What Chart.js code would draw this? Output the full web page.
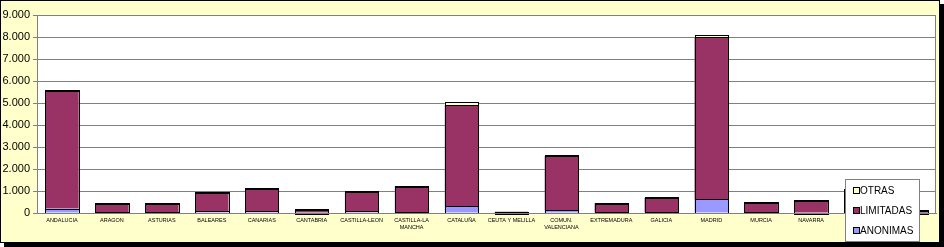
<!DOCTYPE html>
<html>
<head>
<meta charset="utf-8">
<script src="https://cdn.jsdelivr.net/npm/chart.js@4/dist/chart.umd.min.js"></script>
<style>
    body { margin: 0; background: #ffffff; }
    #frame {
        position: absolute; left: 0; top: 0;
        width: 938px; height: 241px;
        border: 1px solid #000000;
        background: #ffffcc;
        box-shadow: 4px 4px 0 #000000;
    }
    #frame canvas { display: block; }
</style>
</head>
<body>
<div id="frame"><canvas id="empresasChart" width="938" height="241"></canvas></div>
<script>
var regiones = ['ANDALUCIA', 'ARAGON', 'ASTURIAS', 'BALEARES', 'CANARIAS', 'CANTABRIA', 'CASTILLA-LEON',
    ['CASTILLA-LA', 'MANCHA'], 'CATALUÑA', 'CEUTA Y MELILLA', ['COMUN.', 'VALENCIANA'], 'EXTREMADURA',
    'GALICIA', 'MADRID', 'MURCIA', 'NAVARRA', 'PAIS VASCO', 'RIOJA'];
var anonimas  = [200, 40, 30, 80, 90, 20, 80, 50, 320, 5, 140, 30, 40, 630, 30, 20, 120, 10];
var limitadas = [5370, 400, 410, 845, 1010, 140, 900, 1140, 4590, 55, 2440, 410, 655, 7350, 440, 545, 950, 100];
var otras     = [30, 15, 10, 30, 20, 5, 20, 20, 135, 5, 40, 15, 15, 125, 10, 10, 30, 5];
var yTicks = [0, 1000, 2000, 3000, 4000, 5000, 6000, 7000, 8000, 9000];

document.addEventListener("DOMContentLoaded", function() {
    drawChart();
});

function formatMiles(v) {
    return String(v).replace(/\B(?=(\d{3})+(?!\d))/g, '.');
}

// white plot area with grey frame, like the excel original
var plotArea = {
    id: 'plotArea',
    beforeDraw: function(chart) {
        var a = chart.chartArea;
        var ctx = chart.ctx;
        ctx.save();
        ctx.fillStyle = '#ffffff';
        ctx.fillRect(a.left, a.top, a.right - a.left, a.bottom - a.top);
        ctx.restore();
    },
    afterDraw: function(chart) {
        var a = chart.chartArea;
        var ctx = chart.ctx;
        ctx.save();
        ctx.strokeStyle = '#808080';
        ctx.lineWidth = 1;
        ctx.strokeRect(a.left + 0.5, a.top + 0.5, a.right - a.left - 1, a.bottom - a.top);
        ctx.restore();
    }
};

// crisp 1px black outline on every stacked segment (chart.js insets borders, excel does not)
var barOutline = {
    id: 'barOutline',
    afterDatasetsDraw: function(chart) {
        var ctx = chart.ctx;
        ctx.save();
        ctx.strokeStyle = '#000000';
        ctx.lineWidth = 1;
        chart.data.datasets.forEach(function(ds, i) {
            chart.getDatasetMeta(i).data.forEach(function(bar) {
                var left = Math.round(bar.x - bar.width / 2);
                var right = Math.round(bar.x + bar.width / 2);
                var top = Math.round(bar.y);
                var h = Math.max(1, Math.round(bar.base) - top);
                ctx.strokeRect(left + 0.5, top + 0.5, right - left, h);
            });
        });
        ctx.restore();
    }
};

// legend box sits over the plot in the bottom right corner
var legendBox = {
    id: 'legendBox',
    afterDraw: function(chart) {
        var ctx = chart.ctx;
        var x = 844, y = 178, w = 74, h = 62;
        ctx.save();
        ctx.fillStyle = '#ffffff';
        ctx.fillRect(x, y, w, h);
        ctx.strokeStyle = '#808080';
        ctx.lineWidth = 1;
        ctx.strokeRect(x + 0.5, y + 0.5, w, h);
        var sets = chart.data.datasets.slice().reverse();
        ctx.font = '10px "Liberation Sans", Arial, sans-serif';
        ctx.textBaseline = 'middle';
        sets.forEach(function(ds, i) {
            var cy = y + 12 + i * 20;
            ctx.fillStyle = ds.backgroundColor;
            ctx.fillRect(x + 9, cy - 3, 5, 5);
            ctx.strokeStyle = '#000000';
            ctx.strokeRect(x + 8.5, cy - 3.5, 6, 6);
            ctx.fillStyle = '#000000';
            ctx.fillText(ds.label, x + 15, cy + 0.5);
        });
        ctx.restore();
    }
};

function drawChart() {
    var ctx = document.getElementById('empresasChart').getContext('2d');
    new Chart(ctx, {
        type: 'bar',
        data: {
            labels: regiones,
            datasets: [
                { label: 'ANONIMAS', data: anonimas, backgroundColor: '#9999ff' },
                { label: 'LIMITADAS', data: limitadas, backgroundColor: '#993366' },
                { label: 'OTRAS', data: otras, backgroundColor: '#ffffcc' }
            ]
        },
        options: {
            responsive: false,
            animation: false,
            layout: { padding: { top: 14, right: 3, left: 0, bottom: 0 } },
            datasets: {
                bar: {
                    categoryPercentage: 1.0,
                    barPercentage: 0.67,
                    borderWidth: 0
                }
            },
            plugins: {
                legend: { display: false },
                tooltip: { enabled: false }
            },
            scales: {
                x: {
                    stacked: true,
                    grid: { display: false, drawTicks: false },
                    border: { color: '#808080' },
                    ticks: {
                        color: '#000000',
                        font: { family: '"Liberation Sans", Arial, sans-serif', size: 5.5, lineHeight: 1.3 },
                        maxRotation: 0,
                        autoSkip: false,
                        padding: 4
                    },
                    afterFit: function(scale) { scale.height = 29; }
                },
                y: {
                    stacked: true,
                    min: 0,
                    max: 9000,
                    afterBuildTicks: function(scale) {
                        scale.ticks = yTicks.map(function(v) { return { value: v }; });
                    },
                    grid: { color: '#808080', tickLength: 4, tickColor: '#808080' },
                    border: { color: '#808080' },
                    ticks: {
                        color: '#000000',
                        font: { family: '"Liberation Sans", Arial, sans-serif', size: 11 },
                        padding: 3,
                        callback: function(v) { return formatMiles(v); }
                    },
                    afterFit: function(scale) { scale.width = 36; }
                }
            }
        },
        plugins: [plotArea, barOutline, legendBox]
    });
}
</script>
</body>
</html>
